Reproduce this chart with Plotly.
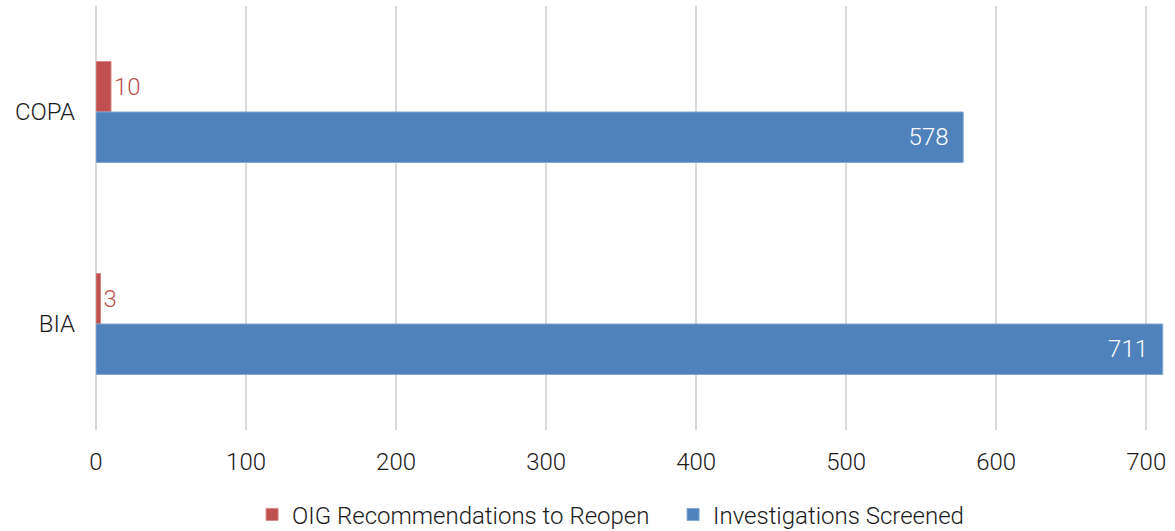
import plotly.graph_objects as go

categories = ["COPA", "BIA"]
reopen_values = [10, 3]
screened_values = [578, 711]
series_names = ["OIG Recommendations to Reopen", "Investigations Screened"]
x_ticks = [0, 100, 200, 300, 400, 500, 600, 700]

RED = "#C0504D"
BLUE = "#4F81BD"
FONT = "Roboto, Liberation Sans, Arial, sans-serif"
FS = 24
TXT = "#1a1a1a"

fig = go.Figure()
fig.add_trace(go.Bar(
    y=categories, x=reopen_values, orientation="h", name=series_names[0],
    marker=dict(color=RED, line=dict(color="#D98583", width=1)),
    text=[str(v) for v in reopen_values], textposition="outside",
    textfont=dict(color=RED, size=FS, family=FONT, weight=300), cliponaxis=False,
))
fig.add_trace(go.Bar(
    y=categories, x=screened_values, orientation="h", name=series_names[1],
    marker=dict(color=BLUE, line=dict(color="#83A6D3", width=1)),
    text=[str(v) + "\u00a0\u00a0" for v in screened_values], textposition="inside",
    insidetextanchor="end",
    textfont=dict(color="white", size=FS, family=FONT, weight=300),
))

fig.update_layout(
    width=1175, height=531,
    margin=dict(l=96, r=10, t=6, b=101, autoexpand=False),
    paper_bgcolor="white", plot_bgcolor="white",
    barmode="group", bargap=0.524, bargroupgap=0,
    font=dict(family=FONT, size=FS, color=TXT, weight=300),
    showlegend=True,
    legend=dict(orientation="h", x=0.146, xanchor="left", y=-0.147, yanchor="top",
                font=dict(size=FS, color=TXT, family=FONT, weight=300), itemwidth=30,
                entrywidth=376, entrywidthmode="pixels"),
    uniformtext=dict(minsize=FS, mode="show"),
)
fig.update_xaxes(range=[0, 712.5], tickvals=x_ticks, showgrid=True, gridcolor="#D9D9D9",
                 gridwidth=2, zeroline=True, zerolinecolor="#D9D9D9", zerolinewidth=2,
                 showline=False, ticks="", ticklabelstandoff=15, automargin=False,
                 tickfont=dict(size=FS, color=TXT, family=FONT, weight=300))
fig.update_yaxes(autorange="reversed", showgrid=False, zeroline=False, showline=False,
                 ticks="", ticklabelstandoff=20, automargin=False,
                 tickfont=dict(size=FS, color=TXT, family=FONT, weight=300))

fig.write_html("out.html")
